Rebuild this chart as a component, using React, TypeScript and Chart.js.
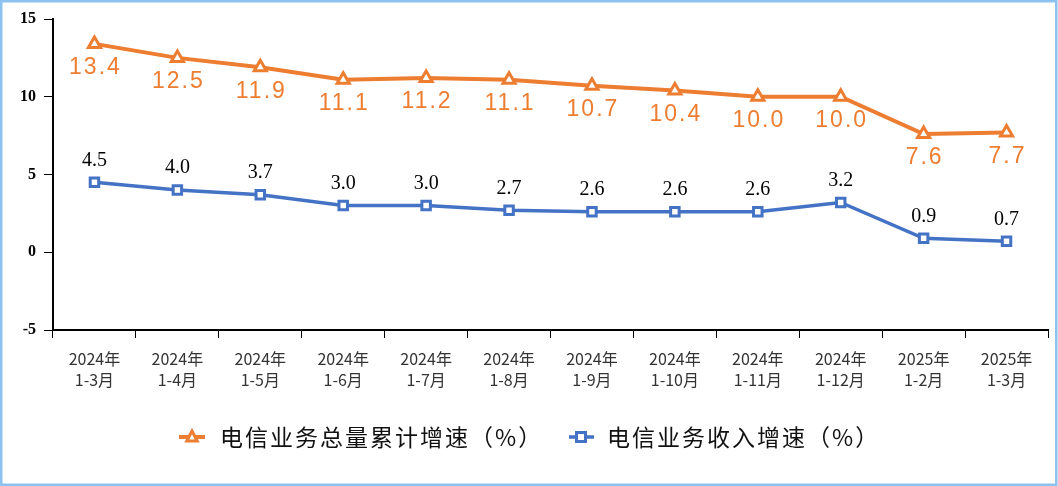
import React, { useEffect, useRef } from 'react';
import { Chart, registerables } from 'chart.js';

Chart.register(...registerables);

const categories: string[][] = [
  ['2024年', '1-3月'],
  ['2024年', '1-4月'],
  ['2024年', '1-5月'],
  ['2024年', '1-6月'],
  ['2024年', '1-7月'],
  ['2024年', '1-8月'],
  ['2024年', '1-9月'],
  ['2024年', '1-10月'],
  ['2024年', '1-11月'],
  ['2024年', '1-12月'],
  ['2025年', '1-2月'],
  ['2025年', '1-3月'],
];
const totalGrowth = [13.4, 12.5, 11.9, 11.1, 11.2, 11.1, 10.7, 10.4, 10.0, 10.0, 7.6, 7.7];
const revenueGrowth = [4.5, 4.0, 3.7, 3.0, 3.0, 2.7, 2.6, 2.6, 2.6, 3.2, 0.9, 0.7];
const yMin = -5;
const yMax = 15;
const yStep = 5;
const seriesNames = ['电信业务总量累计增速（%）', '电信业务收入增速（%）'];

const ORANGE = '#ED7D31';
const BLUE = '#4472C4';

const decorPlugin = {
  id: 'decor',
  afterDatasetsDraw(chart: any) {
    const ctx = chart.ctx as CanvasRenderingContext2D;
    ctx.save();
    const m0 = chart.getDatasetMeta(0);
    ctx.textAlign = 'center';
    ctx.textBaseline = 'middle';
    ctx.fillStyle = ORANGE;
    ctx.font = '23px "Liberation Sans", Arial, sans-serif';
    (ctx as any).letterSpacing = '2px';
    m0.data.forEach((pt: any, i: number) => {
      ctx.fillText(totalGrowth[i].toFixed(1), pt.x + 1, pt.y + 24);
    });
    const m1 = chart.getDatasetMeta(1);
    ctx.fillStyle = '#000';
    ctx.font = '20px "Liberation Serif", "Times New Roman", serif';
    (ctx as any).letterSpacing = '0px';
    m1.data.forEach((pt: any, i: number) => {
      ctx.fillText(revenueGrowth[i].toFixed(1), pt.x, pt.y - 22);
    });
    ctx.restore();
  },
  afterDraw(chart: any) {
    const ctx = chart.ctx as CanvasRenderingContext2D;
    ctx.save();
    const ly = 437;
    // legend entry 1
    ctx.strokeStyle = ORANGE;
    ctx.lineWidth = 4;
    ctx.beginPath();
    ctx.moveTo(179, ly);
    ctx.lineTo(205, ly);
    ctx.stroke();
    ctx.fillStyle = '#fff';
    ctx.lineWidth = 3;
    ctx.beginPath();
    const r = 6;
    ctx.moveTo(192, ly - r);
    ctx.lineTo(192 + r * 0.87, ly + r * 0.5 + 1);
    ctx.lineTo(192 - r * 0.87, ly + r * 0.5 + 1);
    ctx.closePath();
    ctx.fill();
    ctx.stroke();
    // legend entry 2
    ctx.strokeStyle = BLUE;
    ctx.lineWidth = 3.5;
    ctx.beginPath();
    ctx.moveTo(569, ly);
    ctx.lineTo(594, ly);
    ctx.stroke();
    ctx.lineWidth = 3;
    ctx.fillStyle = '#fff';
    ctx.fillRect(576.5, ly - 4.5, 9, 9);
    ctx.strokeRect(576.5, ly - 4.5, 9, 9);
    // legend text
    ctx.fillStyle = '#111';
    ctx.font = '23px "Noto Sans CJK SC", sans-serif';
    (ctx as any).letterSpacing = '2px';
    ctx.textAlign = 'left';
    ctx.textBaseline = 'middle';
    ctx.fillText(seriesNames[0], 220, ly);
    ctx.fillText(seriesNames[1], 607, ly);
    (ctx as any).letterSpacing = '0px';
    // outer border
    ctx.strokeStyle = '#8cc2ef';
    ctx.lineWidth = 2.5;
    ctx.strokeRect(1.25, 1.25, 1055, 483.5);
    ctx.restore();
  },
};

export default function App() {
  const ref = useRef<HTMLCanvasElement>(null);
  useEffect(() => {
    document.body.style.margin = '0';
    const chart = new Chart(ref.current!, {
      type: 'line',
      data: {
        labels: categories,
        datasets: [
          {
            label: seriesNames[0],
            data: totalGrowth,
            borderColor: ORANGE,
            backgroundColor: '#fff',
            borderWidth: 4,
            pointStyle: 'triangle',
            pointRadius: 7,
            pointBorderWidth: 3,
            pointBackgroundColor: '#fff',
            pointBorderColor: ORANGE,
            tension: 0,
          },
          {
            label: seriesNames[1],
            data: revenueGrowth,
            borderColor: BLUE,
            backgroundColor: '#fff',
            borderWidth: 3.5,
            pointStyle: 'rect',
            pointRadius: 6,
            pointBorderWidth: 3,
            pointBackgroundColor: '#fff',
            pointBorderColor: BLUE,
            tension: 0,
          },
        ],
      },
      options: {
        responsive: false,
        animation: false,
        layout: { padding: { top: 19, right: 9, left: 0, bottom: 0 } },
        plugins: { legend: { display: false }, tooltip: { enabled: false } },
        scales: {
          x: {
            offset: true,
            grid: { offset: true, drawOnChartArea: false, drawTicks: true, tickLength: 8, color: '#000', lineWidth: 1 },
            border: { display: true, color: '#000', width: 2 },
            ticks: {
              color: '#333',
              font: { family: '"Noto Sans CJK SC", sans-serif', size: 16, lineHeight: 1.35 },
              padding: 10,
              maxRotation: 0,
              autoSkip: false,
            },
            afterFit: (s: any) => { s.height = 156; },
          },
          y: {
            min: yMin,
            max: yMax,
            ticks: {
              stepSize: yStep,
              color: '#000',
              font: { family: '"Liberation Serif", serif', size: 16, weight: 'bold' },
              padding: 8,
            },
            grid: { drawOnChartArea: false, drawTicks: true, tickLength: 9, color: '#000', lineWidth: 1 },
            border: { display: true, color: '#000', width: 2 },
            afterFit: (s: any) => { s.width = 53; },
          },
        },
      },
      plugins: [decorPlugin],
    });
    return () => chart.destroy();
  }, []);
  return (
    <div style={{ position: 'fixed', left: 0, top: 0, width: 1058, height: 486, background: '#fff' }}>
      <canvas ref={ref} width={1058} height={486} />
    </div>
  );
}
